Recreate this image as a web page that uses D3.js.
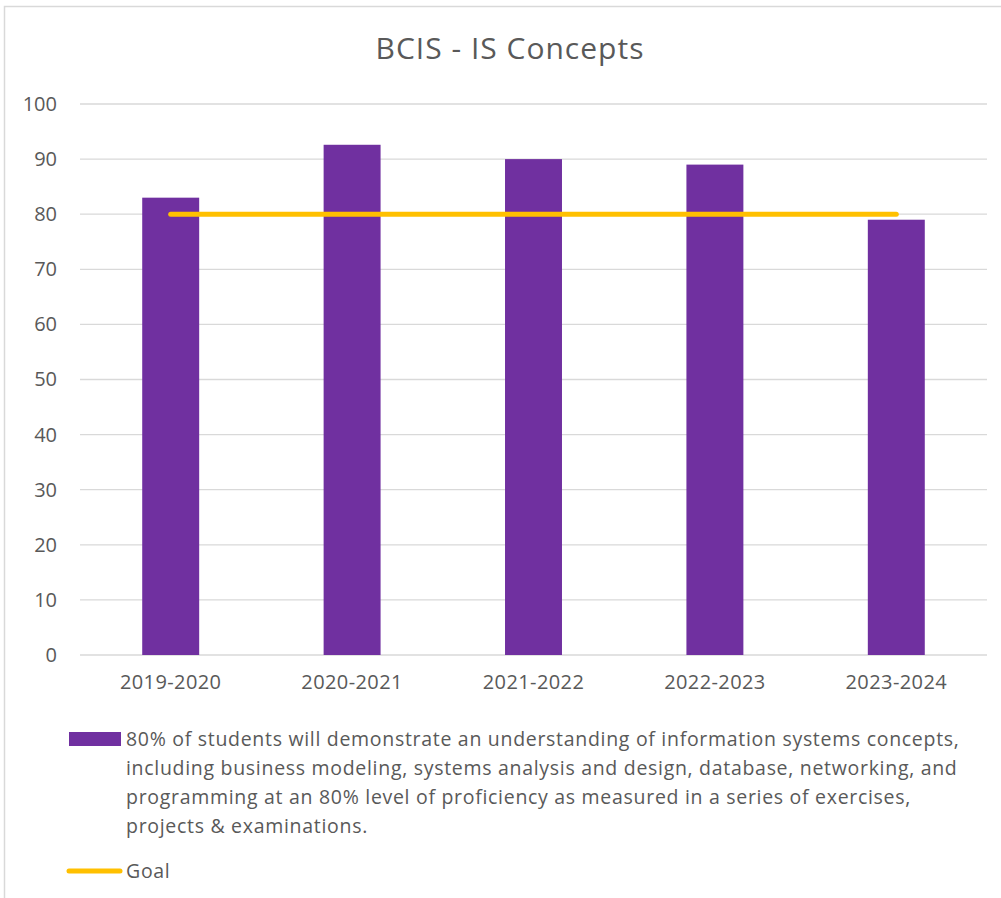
<!DOCTYPE html>
<html>
<head>
<meta charset="utf-8">
<script src="https://cdn.jsdelivr.net/npm/d3@7"></script>
<style>
  html, body { margin: 0; padding: 0; background: #fff; }
  svg { display: block; font-family: "Open Sans", Carlito, Calibri, sans-serif; }
</style>
</head>
<body>
<div id="root"></div>
<script>
const years = ['2019-2020', '2020-2021', '2021-2022', '2022-2023', '2023-2024'];
const scores = [83, 92.6, 90, 89, 79];
const goal = [80, 80, 80, 80, 80];
const yTicks = [0, 10, 20, 30, 40, 50, 60, 70, 80, 90, 100];
const title = 'BCIS - IS Concepts';
const barLabel = [
  '80% of students will demonstrate an understanding of information systems concepts,',
  'including business modeling, systems analysis and design, database, networking, and',
  'programming at an 80% level of proficiency as measured in a series of exercises,',
  'projects & examinations.',
];
const goalLabel = 'Goal';

const width = 1001;
const height = 898;
const margin = { top: 104, right: 14, bottom: 243, left: 80 };
const textColor = '#595959';
const tickFont = 20;
const legendFont = 19.5;

const svg = d3.select('#root').append('svg')
  .attr('width', width)
  .attr('height', height);

// chart frame
svg.append('rect')
  .attr('x', 4.5)
  .attr('y', 6.5)
  .attr('width', width + 20)
  .attr('height', height + 20)
  .attr('fill', 'none')
  .attr('stroke', '#D9D9D9')
  .attr('stroke-width', 1.5);

svg.append('text')
  .attr('x', 510)
  .attr('y', 58.5)
  .attr('text-anchor', 'middle')
  .attr('fill', textColor)
  .attr('font-size', 30)
  .attr('letter-spacing', 1)
  .text(title);

const chartWidth = width - margin.left - margin.right;
const chartHeight = height - margin.top - margin.bottom;

const chart = svg.append('g')
  .attr('transform', `translate(${margin.left}, ${margin.top})`);

const xScale = d3.scaleBand()
  .domain(years)
  .range([0, chartWidth])
  .paddingInner(0.686)
  .paddingOuter(0.343);

const yScale = d3.scaleLinear()
  .domain([0, 100])
  .range([chartHeight, 0]);

// gridlines
chart.append('g')
  .selectAll('line')
  .data(yTicks)
  .enter()
  .append('line')
  .attr('x1', 0)
  .attr('x2', chartWidth)
  .attr('y1', d => yScale(d))
  .attr('y2', d => yScale(d))
  .attr('stroke', '#D9D9D9')
  .attr('stroke-width', 1.3);

const yAxis = d3.axisLeft(yScale)
  .tickValues(yTicks)
  .tickSize(0)
  .tickPadding(23);

chart.append('g')
  .call(yAxis)
  .call(g => g.select('.domain').remove())
  .selectAll('text')
  .attr('fill', textColor)
  .attr('font-size', tickFont)
  .attr('font-family', '"Open Sans", Carlito, Calibri, sans-serif');

const xAxis = d3.axisBottom(xScale)
  .tickSize(0)
  .tickPadding(20);

chart.append('g')
  .attr('transform', `translate(0, ${chartHeight})`)
  .call(xAxis)
  .call(g => g.select('.domain').remove())
  .selectAll('text')
  .attr('fill', textColor)
  .attr('font-size', tickFont)
  .attr('letter-spacing', 0.4)
  .attr('font-family', '"Open Sans", Carlito, Calibri, sans-serif');

chart.selectAll('rect.bar')
  .data(scores)
  .enter()
  .append('rect')
  .attr('class', 'bar')
  .attr('x', (d, i) => xScale(years[i]))
  .attr('y', d => yScale(d))
  .attr('width', xScale.bandwidth())
  .attr('height', d => chartHeight - yScale(d))
  .attr('fill', '#7030A0');

const goalLine = d3.line()
  .x((d, i) => xScale(years[i]) + xScale.bandwidth() / 2)
  .y(d => yScale(d));

chart.append('path')
  .datum(goal)
  .attr('d', goalLine)
  .attr('fill', 'none')
  .attr('stroke', '#FFC000')
  .attr('stroke-width', 5)
  .attr('stroke-linecap', 'round');

// legend
const legend = svg.append('g');

legend.append('rect')
  .attr('x', 69)
  .attr('y', 732)
  .attr('width', 52)
  .attr('height', 14)
  .attr('fill', '#7030A0');

const legendText = legend.append('text')
  .attr('fill', textColor)
  .attr('font-size', legendFont)
  .attr('letter-spacing', 0.7);

legendText.selectAll('tspan')
  .data(barLabel)
  .enter()
  .append('tspan')
  .attr('x', 126)
  .attr('y', (d, i) => 746 + i * 29)
  .text(d => d);

legend.append('line')
  .attr('x1', 69)
  .attr('x2', 120)
  .attr('y1', 871)
  .attr('y2', 871)
  .attr('stroke', '#FFC000')
  .attr('stroke-width', 5)
  .attr('stroke-linecap', 'round');

legend.append('text')
  .attr('x', 126)
  .attr('y', 877.5)
  .attr('fill', textColor)
  .attr('font-size', legendFont)
  .attr('letter-spacing', 0.7)
  .text(goalLabel);
</script>
</body>
</html>
